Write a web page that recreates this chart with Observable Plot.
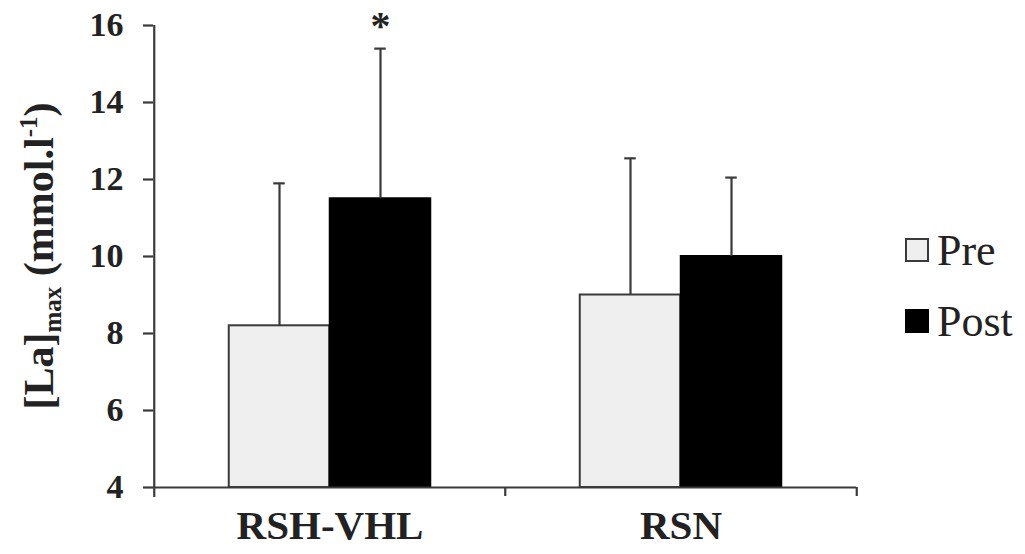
<!DOCTYPE html>
<html>
<head>
<meta charset="utf-8">
<script src="https://cdn.jsdelivr.net/npm/d3@7"></script>
<script src="https://cdn.jsdelivr.net/npm/@observablehq/plot@0.6"></script>
<style>
  html, body { margin: 0; padding: 0; background: #fff; }
  #wrap { position: relative; width: 1025px; height: 554px; overflow: hidden; }
  #legend { position: absolute; left: 905px; top: 226px; font-family: "Liberation Serif", Tinos, "DejaVu Serif", serif; font-size: 44px; color: #222; }
  .item { display: flex; align-items: center; height: 48px; margin-bottom: 23px; }
  .sw { width: 20px; height: 20px; box-sizing: content-box; margin-right: 8px; }
</style>
</head>
<body>
<div id="wrap"></div>
<script>
const categories = ["RSH-VHL", "RSN"];
const series = ["Pre", "Post"];
const preMean = [8.2, 9.0];
const preSD = [3.7, 3.55];
const postMean = [11.5, 10.0];
const postSD = [3.9, 2.05];
const yTicks = [4, 6, 8, 10, 12, 14, 16];
const significant = [{category: "RSH-VHL", series: "Post", label: "*"}];
const seriesFill = ["#efefef", "#000000"];

const FONT = '"Liberation Serif", Tinos, "DejaVu Serif", serif';

const rows = categories.flatMap((c, i) => [
  {category: c, series: "Pre", value: preMean[i], sd: preSD[i]},
  {category: c, series: "Post", value: postMean[i], sd: postSD[i]}
]);
rows.forEach(r => r.upper = r.value + r.sd);
significant.forEach(s => { s.upper = rows.find(r => r.category === s.category && r.series === s.series).upper; });

const W = 1025, H = 554, mL = 153, mR = 169, mT = 25, mB = 67;
const bw = (W - mL - mR) / categories.length;   // band width
const frameH = H - mT - mB;
const barW = 101;
const off = barW / 2;
const inOuter = bw / 2 - barW;
const lineCol = "#3a3a3a";

const pre = rows.filter(r => r.series === "Pre");
const post = rows.filter(r => r.series === "Post");

const chart = Plot.plot({
  width: W, height: H,
  marginLeft: mL, marginRight: mR, marginTop: mT, marginBottom: mB,
  style: {fontFamily: FONT, background: "#fff", color: "#222", overflow: "visible"},
  x: {domain: categories, padding: 0, axis: null},
  y: {domain: [4, 16], axis: null},
  marks: [
    Plot.barY(pre, {x: "category", y1: 4, y2: "value", fill: seriesFill[0], stroke: lineCol, strokeWidth: 2, insetLeft: inOuter, insetRight: bw / 2}),
    Plot.barY(post, {x: "category", y1: 4, y2: "value", fill: seriesFill[1], stroke: "#000", strokeWidth: 2, insetLeft: bw / 2, insetRight: inOuter}),
    Plot.ruleX(pre, {x: "category", y1: "value", y2: "upper", dx: -off, stroke: lineCol, strokeWidth: 2.2}),
    Plot.ruleX(post, {x: "category", y1: "value", y2: "upper", dx: off, stroke: lineCol, strokeWidth: 2.2}),
    Plot.tickY(pre, {x: "category", y: "upper", dx: -off, insetLeft: bw / 2 - 6, insetRight: bw / 2 - 6, stroke: lineCol, strokeWidth: 2.2}),
    Plot.tickY(post, {x: "category", y: "upper", dx: off, insetLeft: bw / 2 - 6, insetRight: bw / 2 - 6, stroke: lineCol, strokeWidth: 2.2}),
    Plot.text(significant, {x: "category", y: "upper", text: "label", dx: off, dy: -22, fontSize: 40, fontWeight: "bold", fill: "#222"}),
    Plot.ruleY([4], {stroke: lineCol, strokeWidth: 2.2}),
    Plot.ruleX([categories[0]], {x: d => d, dx: -bw / 2, insetBottom: -10, stroke: lineCol, strokeWidth: 2.2}),
    Plot.ruleX(categories.slice(1), {x: d => d, dx: -bw / 2, insetTop: frameH, insetBottom: -9, stroke: lineCol, strokeWidth: 2.2}),
    Plot.ruleX(categories.slice(-1), {x: d => d, dx: bw / 2, insetTop: frameH, insetBottom: -9, stroke: lineCol, strokeWidth: 2.2}),
    Plot.axisY(yTicks, {tickSize: 10, tickPadding: 20, fontSize: 34, fontWeight: "bold", stroke: lineCol, strokeWidth: 2.2, label: null}),
    Plot.axisX({tickSize: 0, tickPadding: 22, fontSize: 41, fontWeight: "bold", label: null})
  ]
});

const svg = d3.select(chart);
svg.selectAll("text").attr("font-family", FONT);
const t = svg.append("text")
  .attr("transform", `translate(53, ${mT + frameH / 2}) rotate(-90)`)
  .attr("text-anchor", "middle")
  .attr("font-family", FONT)
  .attr("font-weight", "bold")
  .attr("font-size", 42)
  .attr("fill", "#222");
t.append("tspan").text("[La]");
t.append("tspan").attr("font-size", 25).attr("dy", 8).text("max");
t.append("tspan").attr("dy", -8).text(" (mmol.l");
t.append("tspan").attr("font-size", 25).attr("dy", -16).text("-1");
t.append("tspan").attr("dy", 16).text(")");

const wrap = document.getElementById("wrap");
wrap.appendChild(chart);

const legend = document.createElement("div");
legend.id = "legend";
series.forEach((s, i) => {
  const item = document.createElement("div");
  item.className = "item";
  const sw = document.createElement("span");
  sw.className = "sw";
  sw.style.background = seriesFill[i];
  sw.style.border = `2px solid ${i === 0 ? lineCol : "#000"}`;
  const label = document.createElement("span");
  label.textContent = s;
  item.appendChild(sw);
  item.appendChild(label);
  legend.appendChild(item);
});
wrap.appendChild(legend);
</script>
</body>
</html>
